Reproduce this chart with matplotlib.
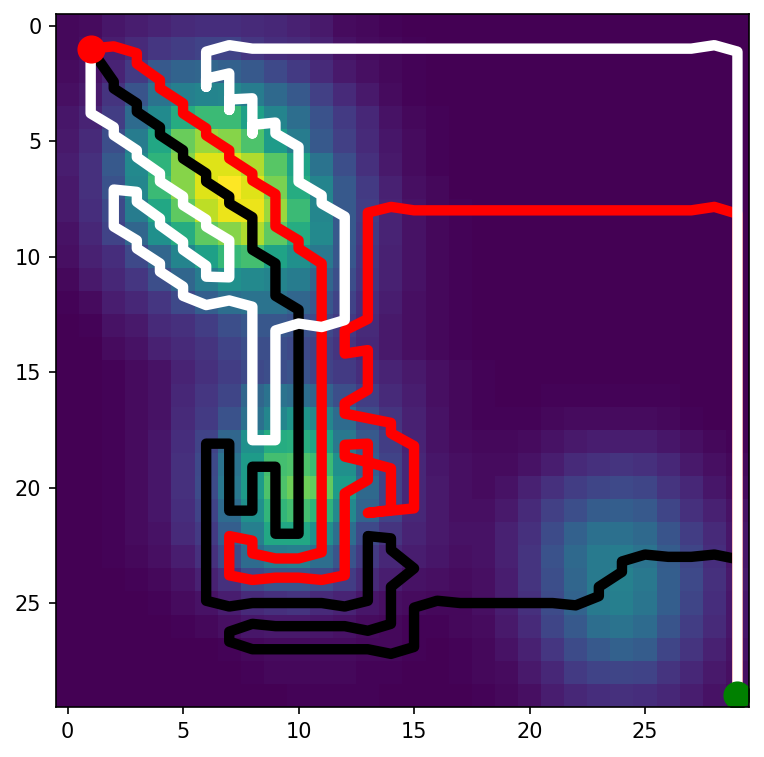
import numpy as np
import matplotlib
matplotlib.use('Agg')
import matplotlib.pyplot as plt

# cost grid, in percent of the peak, one row per y
grid = [
    [2, 3, 6, 8, 10, 12, 13, 13, 12, 11, 9, 7, 3, 2, 1, 0, 0, 0, 0, 0, 0, 0, 0, 0, 0, 0, 0, 0, 0, 0],
    [2, 4, 8, 12, 16, 18, 20, 20, 16, 13, 12, 9, 5, 3, 2, 1, 0, 0, 0, 0, 0, 0, 0, 0, 0, 0, 0, 0, 0, 0],
    [3, 5, 10, 17, 28, 32, 33, 31, 28, 22, 17, 12, 7, 4, 2, 1, 0, 0, 0, 0, 0, 0, 0, 0, 0, 0, 0, 0, 0, 0],
    [4, 7, 15, 26, 38, 43, 45, 46, 42, 34, 28, 19, 12, 7, 3, 1, 0, 0, 0, 0, 0, 0, 0, 0, 0, 0, 0, 0, 0, 0],
    [6, 10, 18, 35, 48, 62, 68, 68, 57, 45, 36, 25, 17, 11, 5, 2, 1, 0, 0, 0, 0, 0, 0, 0, 0, 0, 0, 0, 0, 0],
    [7, 12, 24, 42, 60, 77, 85, 82, 72, 55, 42, 28, 19, 12, 6, 3, 1, 0, 0, 0, 0, 0, 0, 0, 0, 0, 0, 0, 0, 0],
    [8, 14, 28, 47, 65, 82, 95, 95, 88, 74, 58, 38, 24, 14, 7, 3, 1, 0, 0, 0, 0, 0, 0, 0, 0, 0, 0, 0, 0, 0],
    [7, 14, 25, 46, 68, 82, 95, 100, 95, 80, 62, 45, 28, 17, 9, 4, 2, 0, 0, 0, 0, 0, 0, 0, 0, 0, 0, 0, 0, 0],
    [7, 13, 22, 42, 60, 75, 90, 97, 97, 85, 68, 46, 28, 18, 10, 5, 2, 1, 0, 0, 0, 0, 0, 0, 0, 0, 0, 0, 0, 0],
    [5, 11, 20, 33, 50, 62, 75, 82, 88, 75, 62, 47, 28, 17, 10, 5, 2, 1, 0, 0, 0, 0, 0, 0, 0, 0, 0, 0, 0, 0],
    [4, 9, 13, 22, 33, 45, 57, 67, 70, 58, 50, 40, 27, 16, 9, 5, 2, 1, 0, 0, 0, 0, 0, 0, 0, 0, 0, 0, 0, 0],
    [2, 7, 11, 16, 24, 33, 42, 50, 47, 45, 42, 33, 24, 15, 9, 5, 2, 1, 0, 0, 0, 0, 0, 0, 0, 0, 0, 0, 0, 0],
    [1, 3, 8, 11, 16, 22, 30, 36, 38, 38, 33, 27, 20, 13, 8, 4, 2, 1, 0, 0, 0, 0, 0, 0, 0, 0, 0, 0, 0, 0],
    [0, 1, 5, 7, 12, 14, 18, 24, 27, 27, 25, 22, 17, 12, 7, 4, 2, 1, 0, 0, 0, 0, 0, 0, 0, 0, 0, 0, 0, 0],
    [0, 0, 3, 5, 9, 12, 15, 20, 24, 24, 22, 19, 15, 11, 7, 4, 2, 1, 0, 0, 0, 0, 0, 0, 0, 0, 0, 0, 0, 0],
    [0, 0, 1, 3, 5, 10, 14, 18, 22, 24, 25, 20, 17, 13, 10, 7, 4, 2, 1, 0, 0, 0, 0, 0, 0, 0, 0, 0, 0, 0],
    [0, 0, 1, 3, 5, 11, 16, 21, 33, 38, 36, 32, 24, 18, 12, 8, 4, 2, 1, 0, 0, 1, 1, 1, 1, 1, 1, 0, 0, 0],
    [0, 0, 1, 3, 5, 12, 17, 25, 37, 46, 52, 46, 35, 23, 15, 9, 5, 2, 1, 1, 1, 2, 3, 3, 3, 3, 2, 1, 0, 0],
    [0, 0, 1, 3, 6, 13, 20, 33, 50, 62, 63, 58, 40, 28, 18, 10, 5, 3, 2, 2, 3, 5, 7, 8, 8, 8, 6, 4, 2, 1],
    [0, 0, 1, 3, 6, 14, 22, 38, 55, 70, 72, 68, 50, 30, 20, 11, 6, 4, 3, 3, 5, 8, 12, 14, 15, 14, 11, 7, 4, 2],
    [0, 0, 1, 3, 6, 14, 23, 40, 55, 72, 78, 76, 55, 34, 20, 11, 7, 4, 3, 5, 9, 14, 18, 21, 22, 21, 15, 11, 6, 3],
    [0, 0, 1, 3, 6, 13, 20, 35, 50, 66, 70, 65, 47, 32, 20, 11, 7, 4, 4, 7, 12, 19, 24, 29, 30, 28, 21, 14, 9, 5],
    [0, 0, 1, 3, 5, 12, 17, 30, 43, 60, 60, 50, 36, 22, 15, 10, 7, 5, 5, 9, 14, 23, 31, 37, 37, 34, 26, 18, 12, 6],
    [0, 0, 1, 2, 4, 8, 14, 23, 35, 42, 43, 36, 26, 17, 11, 8, 6, 4, 5, 9, 15, 25, 34, 41, 42, 38, 29, 21, 13, 6],
    [0, 0, 0, 1, 2, 5, 9, 14, 22, 26, 26, 23, 18, 12, 8, 5, 4, 3, 4, 8, 15, 24, 33, 41, 44, 40, 30, 22, 14, 7],
    [0, 0, 0, 0, 1, 3, 5, 8, 12, 14, 15, 12, 10, 6, 4, 3, 2, 2, 4, 8, 14, 23, 32, 41, 43, 39, 30, 21, 13, 6],
    [0, 0, 0, 0, 0, 1, 2, 4, 6, 7, 7, 6, 5, 3, 2, 1, 1, 2, 3, 7, 12, 21, 28, 36, 38, 35, 26, 18, 12, 6],
    [0, 0, 0, 0, 0, 0, 0, 1, 2, 3, 3, 3, 3, 2, 2, 1, 0, 1, 2, 5, 9, 16, 23, 28, 31, 29, 21, 15, 9, 5],
    [0, 0, 0, 0, 0, 0, 0, 0, 1, 2, 2, 2, 2, 1, 1, 0, 0, 1, 2, 3, 7, 11, 17, 20, 21, 20, 15, 11, 7, 4],
    [0, 0, 0, 0, 0, 0, 0, 0, 0, 0, 1, 1, 1, 1, 0, 0, 0, 0, 1, 2, 4, 8, 11, 13, 14, 13, 11, 8, 5, 3],
]

black_x = [1, 2, 2, 3, 3, 4, 4, 5, 5, 6, 6, 7, 7, 8, 8, 9, 9, 10, 10, 9, 9, 8, 8, 7, 7, 6, 6, 7, 8, 11, 12, 13, 13,
           14, 14, 15, 14, 14, 13, 12, 9, 8, 7, 7, 8, 9, 13, 14, 15, 15, 16, 17, 21, 22, 23, 23, 24, 24, 25, 26,
           27, 28, 29, 29]
black_y = [1, 2.43, 2.72, 3.37, 3.73, 4.4, 4.74, 5.4, 5.75, 6.4, 6.75, 7.4, 7.7, 8.3, 9.7, 10.3, 11.7, 12.3, 22, 22,
           19.1, 19.1, 21, 21, 18.1, 18.1, 24.9, 25.15, 25, 25, 25.15, 24.9, 22.1, 22.2, 22.7, 23.5, 24.3, 25.9,
           26.2, 26, 26, 25.9, 26.24, 26.67, 27, 27, 27, 27.2, 26.9, 25.2, 24.9, 25, 25, 25.1, 24.7, 24.3, 23.65,
           23.2, 22.9, 23, 23, 22.9, 23.1, 29]

red_x = [1, 2, 3, 3, 4, 4, 5, 5, 6, 6, 7, 7, 8, 8, 9, 9, 10, 10, 11, 11, 10, 9, 8, 8, 7, 7, 8, 9, 10, 11, 12, 12,
         13, 13, 12, 12, 13, 14, 14, 13, 15, 15, 14, 14, 12, 12, 13, 13, 12, 12, 13, 13, 14, 15, 27, 28, 29, 29]
red_y = [1, 0.9, 1.2, 1.65, 2.36, 2.72, 3.37, 3.8, 4.45, 4.75, 5.4, 5.75, 6.4, 6.7, 7.3, 8.7, 9.3, 9.65, 10.3, 22.8,
         23.07, 23.07, 22.85, 22.3, 22.1, 23.8, 24, 23.9, 23.9, 24, 23.8, 20.25, 19.67, 18.1, 18.15, 18.66, 18.9,
         19.17, 20.97, 21.1, 20.9, 18.2, 17.65, 17.2, 16.8, 16.35, 15.77, 14.05, 14.2, 13.2, 12.7, 8.1, 7.85, 8,
         8, 7.85, 8.15, 29]

white_x = [1, 1, 2, 2, 3, 3, 4, 4, 5, 5, 6, 6, 7, 7, 6, 6, 5, 5, 4, 4, 3, 3, 2, 2, 3, 3, 4, 4, 5, 5, 6, 7, 8, 8, 9,
           9, 10, 11, 12, 12, 11, 11, 10, 10, 9, 9, 8, 8, 8, 7, 7, 7, 6, 6, 6, 7, 8, 27, 28, 29, 29]
white_y = [1, 3.8, 4.4, 4.74, 5.4, 5.7, 6.4, 6.75, 7.4, 7.77, 8.4, 8.7, 9.3, 10.9, 10.87, 10.4, 9.7, 9.36, 8.64, 8.35,
           7.63, 7.2, 7.1, 8.7, 9.3, 9.65, 10.3, 10.65, 11.3, 11.7, 12.1, 11.9, 12.17, 17.95, 17.95, 13.2, 12.9,
           13.05, 12.75, 8.27, 7.7, 7.35, 6.76, 5.25, 4.67, 4.2, 4.3, 4.67, 3.15, 3.2, 3.65, 2.07, 2.3, 2.65, 1.13,
           0.85, 1, 1, 0.85, 1.13, 29]

start = (1, 1)
goal = (29, 29)

fig = plt.figure(figsize=(764 / 150, 757 / 150), dpi=150)
ax = fig.add_axes([56 / 764, 1 - 707 / 757, 693 / 764, 693 / 757])

ax.imshow(np.array(grid), cmap='viridis', vmin=0, vmax=100, interpolation='nearest')
ax.plot(black_x, black_y, color='black', lw=5)
ax.plot(red_x, red_y, color='red', lw=5)
ax.plot(white_x, white_y, color='white', lw=5)
ax.plot(start[0], start[1], 'o', color='red', ms=12.5)
ax.plot(goal[0], goal[1], 'o', color='green', ms=12.5)
ax.set_xlim(-0.5, 29.5)
ax.set_ylim(29.5, -0.5)

plt.savefig('out.png', dpi=150)
